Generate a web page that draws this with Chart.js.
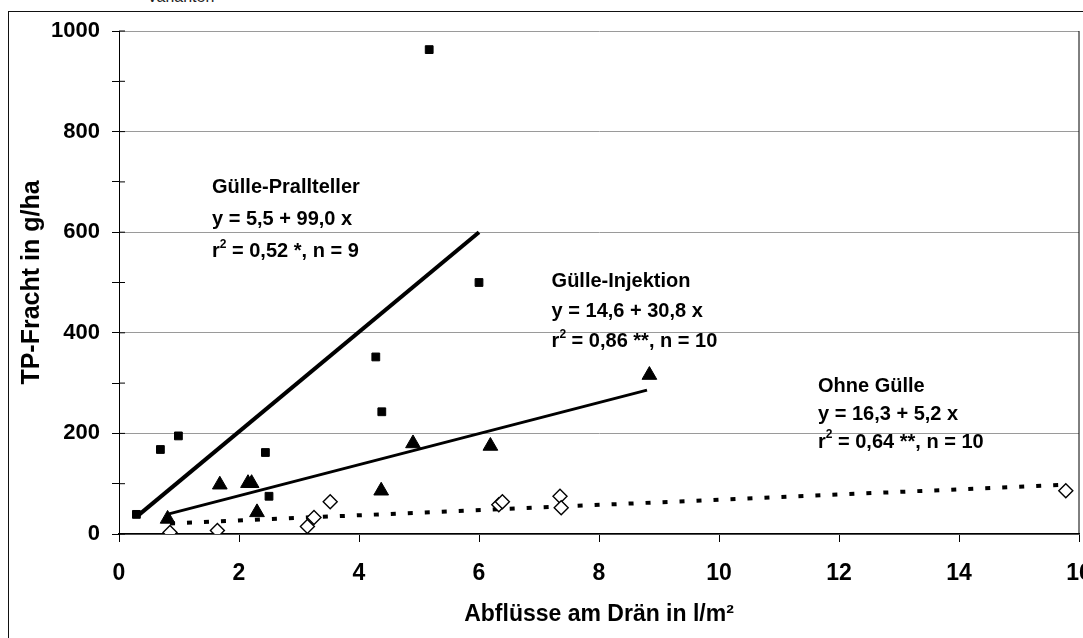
<!DOCTYPE html>
<html>
<head>
<meta charset="utf-8">
<script src="https://cdn.jsdelivr.net/npm/chart.js@4.4.1/dist/chart.umd.min.js"></script>
<style>
    html, body { margin: 0; padding: 0; background: #fff; overflow: hidden; width: 1083px; height: 638px; }
    #rahmen { position: absolute; left: 8px; top: 11px; width: 1200px; height: 700px; border-left: 1.5px solid #111; border-top: 1.5px solid #111; }
    #oben { position: absolute; left: 147px; top: -12px; font: 16px 'Liberation Sans', Arial, sans-serif; color: #222; }
    #wrap { position: absolute; left: 0; top: 0; width: 1120px; height: 638px; }
</style>
</head>
<body>
<div id="oben">Varianten</div>
<div id="rahmen"></div>
<div id="wrap"><canvas id="chart"></canvas></div>
<script>
const FONT = "'Liberation Sans', Arial, sans-serif";

// Messpunkte
const pralltellerX = [0.29, 0.69, 0.99, 2.44, 2.50, 4.28, 4.38, 5.17, 6.00];
const pralltellerY = [39, 168, 195, 162, 75, 352, 243, 963, 500];
const injektionX = [0.81, 1.68, 2.15, 2.21, 2.30, 4.37, 4.90, 6.19, 8.84];
const injektionY = [30, 98, 101, 101, 43, 86, 180, 175, 316];
const ohneX = [0.85, 1.64, 3.14, 3.25, 3.52, 6.33, 6.39, 7.35, 7.37, 15.78];
const ohneY = [3, 7, 15, 33, 64, 58, 64, 75, 52, 86];

// Regressionsgeraden (Endpunkte)
const pralltellerFitX = [0.3, 6.0];
const pralltellerFitY = [35, 600];
const injektionFitX = [0.8, 8.8];
const injektionFitY = [39, 286];
const ohneFitX = [0.85, 15.78];
const ohneFitY = [21, 98];

const xTicks = [0, 2, 4, 6, 8, 10, 12, 14, 16];
const yTicks = [0, 100, 200, 300, 400, 500, 600, 700, 800, 900, 1000];

// Beschriftung der Geraden
const fitLabels = [
    { x: 1.55, y: 688, gap: 32, lines: ['Gülle-Prallteller', 'y = 5,5 + 99,0 x', 'r² = 0,52 *, n = 9'] },
    { x: 7.21, y: 502, gap: 30, lines: ['Gülle-Injektion', 'y = 14,6 + 30,8 x', 'r² = 0,86 **, n = 10'] },
    { x: 11.65, y: 294, gap: 28, lines: ['Ohne Gülle', 'y = 16,3 + 5,2 x', 'r² = 0,64 **, n = 10'] }
];

function pts(xs, ys) {
    return xs.map(function(v, i) { return { x: v, y: ys[i] }; });
}

function drawLine(ctx, text, px, py) {
    ctx.font = 'bold 20px ' + FONT;
    if (text.indexOf('²') < 0) {
        ctx.fillText(text, px, py);
        return;
    }
    var parts = text.split('²');
    ctx.fillText(parts[0], px, py);
    var w = ctx.measureText(parts[0]).width;
    ctx.font = 'bold 12px ' + FONT;
    ctx.fillText('2', px + w, py - 7);
    w += ctx.measureText('2').width;
    ctx.font = 'bold 20px ' + FONT;
    ctx.fillText(parts[1], px + w, py);
}

const extras = {
    id: 'extras',
    beforeDatasetsDraw(chart) {
        const { ctx, chartArea: a, scales: { y } } = chart;
        ctx.save();
        ctx.strokeStyle = '#000';
        ctx.lineWidth = 1;
        ctx.beginPath();
        ctx.moveTo(a.right, a.top);
        ctx.lineTo(a.right, a.bottom);
        yTicks.forEach(function(v) {
            var py = y.getPixelForValue(v);
            ctx.moveTo(a.left, py);
            ctx.lineTo(a.left + 6, py);
        });
        ctx.stroke();
        ctx.restore();
    },
    afterDatasetsDraw(chart) {
        const { ctx, scales: { x, y } } = chart;
        ctx.save();
        ctx.fillStyle = '#000';
        ctx.textBaseline = 'middle';
        ctx.textAlign = 'left';
        fitLabels.forEach(function(l) {
            var px = x.getPixelForValue(l.x);
            var py = y.getPixelForValue(l.y);
            l.lines.forEach(function(t, i) {
                drawLine(ctx, t, px, py + i * l.gap);
            });
        });
        ctx.restore();
    }
};

var ctx = document.getElementById('chart').getContext('2d');
var chart = new Chart(ctx, {
    type: 'scatter',
    data: {
        datasets: [
            {
                label: 'Gülle-Prallteller',
                data: pts(pralltellerX, pralltellerY),
                pointStyle: 'rect',
                pointRadius: 5.5,
                backgroundColor: '#000',
                borderColor: '#000',
                borderWidth: 1,
                order: 0
            },
            {
                label: 'Gülle-Injektion',
                data: pts(injektionX, injektionY),
                pointStyle: 'triangle',
                pointRadius: 8.5,
                backgroundColor: '#000',
                borderColor: '#000',
                borderWidth: 1,
                order: 0
            },
            {
                label: 'Ohne Gülle',
                data: pts(ohneX, ohneY),
                pointStyle: 'rectRot',
                pointRadius: 7,
                backgroundColor: '#fff',
                borderColor: '#000',
                borderWidth: 1.4,
                order: 0
            },
            {
                type: 'line',
                data: pts(pralltellerFitX, pralltellerFitY),
                borderColor: '#000',
                borderWidth: 4,
                pointRadius: 0,
                order: 1
            },
            {
                type: 'line',
                data: pts(injektionFitX, injektionFitY),
                borderColor: '#000',
                borderWidth: 3,
                pointRadius: 0,
                order: 1
            },
            {
                type: 'line',
                data: pts(ohneFitX, ohneFitY),
                borderColor: '#000',
                borderWidth: 4,
                borderDash: [5, 12],
                borderCapStyle: 'butt',
                pointRadius: 0,
                order: 1
            }
        ]
    },
    options: {
        responsive: true,
        maintainAspectRatio: false,
        animation: false,
        layout: { padding: { left: 0, top: 31, right: 41, bottom: 0 } },
        plugins: { legend: { display: false }, tooltip: { enabled: false } },
        scales: {
            x: {
                type: 'linear',
                min: 0,
                max: 16,
                afterBuildTicks: function(s) { s.ticks = xTicks.map(function(v) { return { value: v }; }); },
                afterFit: function(s) { s.height = 104; },
                ticks: { color: '#000', font: { family: FONT, size: 23, weight: 'bold' }, padding: 18, maxRotation: 0, autoSkip: false },
                grid: { drawOnChartArea: false, drawTicks: true, tickLength: 8, color: '#000', tickColor: '#000' },
                border: { color: '#000', width: 1.5 },
                title: {
                    display: true,
                    text: 'Abflüsse am Drän in l/m²',
                    color: '#000',
                    font: { family: FONT, size: 23, weight: 'bold' },
                    padding: { top: 0, bottom: 10 }
                }
            },
            y: {
                type: 'linear',
                min: 0,
                max: 1000,
                afterBuildTicks: function(s) { s.ticks = yTicks.map(function(v) { return { value: v }; }); },
                afterFit: function(s) { s.width = 119; },
                ticks: {
                    color: '#000',
                    font: { family: FONT, size: 22, weight: 'bold' },
                    padding: 12,
                    autoSkip: false,
                    callback: function(v) { return v % 200 === 0 ? v : ''; }
                },
                grid: {
                    color: function(c) { return c.tick && c.tick.value % 200 === 0 ? '#9a9a9a' : 'rgba(0,0,0,0)'; },
                    tickColor: '#000',
                    tickLength: 7,
                    lineWidth: 1
                },
                border: { color: '#000', width: 1 },
                title: {
                    display: true,
                    text: 'TP-Fracht in g/ha',
                    color: '#000',
                    font: { family: FONT, size: 25, weight: 'bold' },
                    padding: { top: 17, bottom: 0 }
                }
            }
        }
    },
    plugins: [extras]
});
</script>
</body>
</html>
